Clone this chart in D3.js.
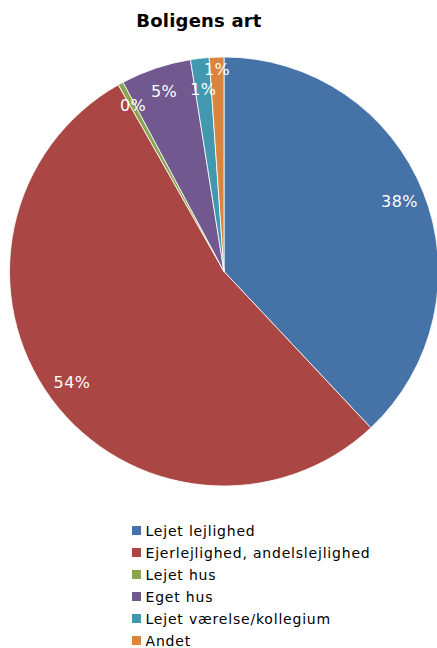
<!DOCTYPE html>
<meta charset="utf-8">
<style>
  body { margin: 0; background: #fff; }
  text { font-family: "DejaVu Sans", Verdana, sans-serif; }
</style>
<body>
<div id="chart"></div>
<script src="https://d3js.org/d3.v7.min.js"></script>
<script>
  // data
  var categories = ["Lejet lejlighed", "Ejerlejlighed, andelslejlighed", "Lejet hus", "Eget hus", "Lejet værelse/kollegium", "Andet"];
  var values = [38.0, 53.8, 0.4, 5.3, 1.4, 1.1];
  var colors = ["#4572A7", "#AA4643", "#89A54E", "#71588F", "#4198AF", "#DB843D"];
  var title = "Boligens art";

  var width = 437, height = 648;
  var cx = 224, cy = 271.5, radius = 214.5;

  var svg = d3.select("#chart").append("svg")
    .attr("width", width)
    .attr("height", height);

  svg.append("text")
    .attr("x", 199)
    .attr("y", 27)
    .attr("text-anchor", "middle")
    .attr("font-size", 18)
    .attr("font-weight", "bold")
    .attr("letter-spacing", 0.2)
    .text(title);

  var total = d3.sum(values);
  var pie = d3.pie().sort(null).value(d => d);
  var arcs = pie(values);
  var arc = d3.arc().innerRadius(0).outerRadius(radius);

  var g = svg.append("g").attr("transform", "translate(" + cx + "," + cy + ")");

  g.selectAll("path")
    .data(arcs)
    .enter().append("path")
    .attr("d", arc)
    .attr("fill", (d, i) => colors[i])
    .attr("stroke", "#fff")
    .attr("stroke-width", 0.8);

  // labels, nudged apart when they crowd
  var labelPos = arcs.map(function(d) {
    var a = (d.startAngle + d.endAngle) / 2;
    return { a: a, r: radius * 0.88 };
  });
  for (var i = 1; i < labelPos.length; i++) {
    var p = labelPos[i - 1], q = labelPos[i];
    var dx = Math.sin(q.a) * q.r - Math.sin(p.a) * p.r;
    if (Math.abs(dx) < 22 && arcs[i].endAngle - arcs[i].startAngle < 0.1 && arcs[i - 1].endAngle - arcs[i - 1].startAngle < 0.1) {
      p.r -= 6;
      q.r += 13;
    }
  }

  g.selectAll("text.lbl")
    .data(arcs)
    .enter().append("text")
    .attr("class", "lbl")
    .attr("x", (d, i) => Math.sin(labelPos[i].a) * labelPos[i].r)
    .attr("y", (d, i) => -Math.cos(labelPos[i].a) * labelPos[i].r)
    .attr("dy", "0.3em")
    .attr("text-anchor", "middle")
    .attr("font-size", 16)
    .attr("letter-spacing", 0.4)
    .attr("fill", "#fff")
    .text(d => Math.round(d.value / total * 100) + "%");

  // legend
  var legend = svg.append("g").attr("transform", "translate(132,530.5)");
  var rowH = 22;
  var item = legend.selectAll("g")
    .data(categories)
    .enter().append("g")
    .attr("transform", (d, i) => "translate(0," + (i * rowH) + ")");
  item.append("rect")
    .attr("x", 0)
    .attr("y", -4.5)
    .attr("width", 9)
    .attr("height", 9)
    .attr("fill", (d, i) => colors[i]);
  item.append("text")
    .attr("x", 13.5)
    .attr("y", 0)
    .attr("dy", "0.36em")
    .attr("font-size", 14)
    .attr("letter-spacing", 0.8)
    .attr("fill", "#000")
    .text(d => d);
</script>
</body>
